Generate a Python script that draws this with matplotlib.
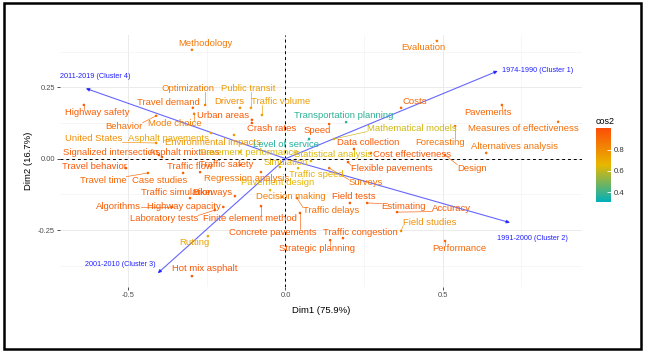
import numpy as np
import matplotlib
matplotlib.use("Agg")
import matplotlib.pyplot as plt
from matplotlib.colors import LinearSegmentedColormap, Normalize
from matplotlib.patches import Rectangle
from matplotlib.cm import ScalarMappable

plt.rcParams['font.family'] = ['Liberation Sans', 'DejaVu Sans']

# row coordinates (keywords)
terms = ["Methodology", "Evaluation", "Optimization", "Public transit", "Drivers",
         "Traffic volume", "Travel demand", "Urban areas", "Mode choice", "Crash rates",
         "Highway safety", "Behavior", "United States", "Asphalt pavements",
         "Environmental impacts", "Signalized intersection", "Asphalt mixtures",
         "Pavement performance", "Statistical analysis", "Simulation", "Level of service",
         "Transportation planning", "Speed", "Mathematical models", "Data collection",
         "Cost effectiveness", "Design", "Forecasting", "Costs", "Pavements",
         "Measures of effectiveness", "Alternatives analysis", "Flexible pavements",
         "Traffic speed", "Surveys", "Field tests", "Estimating", "Accuracy",
         "Field studies", "Performance", "Traffic congestion", "Strategic planning",
         "Concrete pavements", "Traffic delays", "Decision making", "Pavement design",
         "Finite element method", "Regression analysis", "Traffic safety", "Traffic flow",
         "Travel behavior", "Travel time", "Case studies", "Traffic simulation", "Bikeways",
         "Algorithms", "Highway capacity", "Laboratory tests", "Rutting", "Hot mix asphalt"]
dim1 = [-0.298, 0.482, -0.256, -0.110, -0.145, -0.075, -0.295, -0.107, -0.291, -0.107,
        -0.642, -0.412, -0.412, -0.237, -0.164, -0.403, -0.393, -0.145, 0.081, -0.018,
        0.075, 0.193, 0.139, 0.154, 0.218, 0.272, 0.508, 0.540, 0.368, 0.689,
        0.868, 0.639, 0.199, 0.040, 0.139, 0.205, 0.260, 0.355, 0.368, 0.508,
        0.183, 0.142, 0.046, 0.037, -0.011, -0.049, -0.078, -0.078, -0.145, -0.272,
        -0.508, -0.438, -0.326, -0.304, -0.161, -0.361, -0.198, -0.225, -0.247, -0.298]
dim2 = [0.381, 0.412, 0.188, 0.178, 0.178, 0.153, 0.178, 0.136, 0.157, 0.125,
        0.188, 0.150, 0.055, 0.090, 0.083, 0.013, 0.006, 0.023, -0.008, -0.029,
        0.069, 0.128, 0.121, 0.069, 0.034, 0.020, 0.013, 0.114, 0.178, 0.188,
        0.129, 0.020, -0.012, -0.033, -0.033, -0.155, -0.155, -0.187, -0.253, -0.288,
        -0.278, -0.285, -0.190, -0.138, -0.134, -0.110, -0.166, -0.047, -0.022, -0.047,
        -0.033, -0.050, -0.050, -0.138, -0.131, -0.169, -0.169, -0.180, -0.271, -0.411]
cos2 = [0.86, 0.87, 0.85, 0.74, 0.80, 0.74, 0.92, 0.96, 0.84, 0.97,
        0.95, 0.90, 0.80, 0.72, 0.76, 0.95, 0.95, 0.64, 0.64, 0.67,
        0.36, 0.38, 0.95, 0.62, 0.96, 0.97, 0.92, 0.88, 0.92, 0.92,
        0.90, 0.88, 0.97, 0.68, 0.88, 0.97, 0.95, 0.95, 0.78, 0.92,
        0.95, 0.95, 0.95, 0.90, 0.85, 0.65, 0.95, 0.88, 0.95, 0.95,
        0.97, 0.92, 0.92, 0.95, 0.95, 0.95, 0.95, 0.95, 0.72, 0.97]

# repelled label placement
label_xy = [(-0.256, 0.402), (0.438, 0.388), (-0.311, 0.244), (-0.119, 0.244), (-0.180, 0.199),
            (-0.014, 0.199), (-0.374, 0.195), (-0.199, 0.150), (-0.352, 0.122), (-0.043, 0.104),
            (-0.600, 0.160), (-0.514, 0.114), (-0.610, 0.069), (-0.371, 0.072), (-0.231, 0.058),
            (-0.556, 0.020), (-0.323, 0.023), (-0.116, 0.020), (0.151, 0.013), (0.002, -0.012),
            (0.002, 0.051), (0.186, 0.150), (0.100, 0.097), (0.403, 0.107), (0.263, 0.055),
            (0.403, 0.013), (0.594, -0.033), (0.492, 0.058), (0.412, 0.199), (0.645, 0.160),
            (0.757, 0.107), (0.728, 0.041), (0.339, -0.036), (0.097, -0.057), (0.256, -0.085),
            (0.218, -0.131), (0.377, -0.169), (0.530, -0.173), (0.460, -0.222), (0.553, -0.316),
            (0.237, -0.257), (0.100, -0.313), (-0.040, -0.260), (0.145, -0.183), (0.018, -0.134),
            (-0.024, -0.085), (-0.113, -0.211), (-0.123, -0.068), (-0.189, -0.019), (-0.304, -0.029),
            (-0.607, -0.029), (-0.581, -0.075), (-0.400, -0.075), (-0.346, -0.117), (-0.234, -0.117),
            (-0.533, -0.166), (-0.323, -0.166), (-0.387, -0.211), (-0.291, -0.295), (-0.256, -0.386)]

# column coordinates (periods)
periods = ["1974-1990 (Cluster 1)", "1991-2000 (Cluster 2)",
           "2001-2010 (Cluster 3)", "2011-2019 (Cluster 4)"]
per_dim1 = [0.676, 0.715, -0.407, -0.636]
per_dim2 = [0.307, -0.224, -0.401, 0.246]
period_label_xy = [(0.804, 0.307), (0.785, -0.278), (-0.527, -0.372), (-0.607, 0.286)]

cmap = LinearSegmentedColormap.from_list("cos2", ["#00AFBB", "#E7B800", "#FC4E07"])
norm = Normalize(vmin=0.31, vmax=1.0)

fig = plt.figure(figsize=(6.45, 3.52), dpi=100)
ax = fig.add_axes([0.093, 0.1847, 0.8093, 0.716])
ax.set_xlim(-0.718, 0.944)
ax.set_ylim(-0.449, 0.433)

# grid like theme_minimal
ax.set_xticks([-0.5, 0.0, 0.5])
ax.set_yticks([-0.25, 0.0, 0.25])
ax.set_xticklabels(["-0.5", "0.0", "0.5"])
ax.set_yticklabels(["-0.25", "0.00", "0.25"])
ax.set_xticks([-0.25, 0.25, 0.75], minor=True)
ax.set_yticks([-0.375, -0.125, 0.125, 0.375], minor=True)
ax.grid(which='major', color='#EBEBEB', lw=0.7)
ax.grid(which='minor', color='#F2F2F2', lw=0.45)
ax.set_axisbelow(True)
for s in ax.spines.values():
    s.set_visible(False)
ax.tick_params(which='major', length=2, width=0.6, color='#333333',
               labelsize=5.4, labelcolor='#4D4D4D', pad=1.5)
ax.tick_params(which='minor', length=0)

ax.axhline(0, color='black', lw=0.7, ls=(0, (3, 3)), zorder=1)
ax.axvline(0, color='black', lw=0.7, ls=(0, (3, 3)), zorder=1)

ax.set_xlabel("Dim1 (75.9%)", fontsize=6.8, labelpad=5)
ax.set_ylabel("Dim2 (16.7%)", fontsize=6.8, labelpad=4)

# period arrows
for x, y in zip(per_dim1, per_dim2):
    ax.annotate("", xy=(x, y), xytext=(0, 0),
                arrowprops=dict(arrowstyle="-|>", color='blue', alpha=0.6,
                                lw=0.8, mutation_scale=5, shrinkA=0, shrinkB=0))
for name, (lx, ly) in zip(periods, period_label_xy):
    ax.text(lx, ly, name, color='#1f1fff', fontsize=5.2, ha='center', va='center')

# keyword points and labels
colors = [cmap(norm(c)) for c in cos2]
ax.scatter(dim1, dim2, s=3.5, c=colors, linewidths=0, zorder=3)
texts = []
for name, (lx, ly), col in zip(terms, label_xy, colors):
    texts.append(ax.text(lx, ly, name, color=col, fontsize=6.8,
                         ha='center', va='center', zorder=4))

# leader segments from label box to point
fig.canvas.draw()
renderer = fig.canvas.get_renderer()
inv = ax.transData.inverted()
for t, x, y, col in zip(texts, dim1, dim2, colors):
    bb = t.get_window_extent(renderer)
    px, py = ax.transData.transform((x, y))
    cx = min(max(px, bb.x0), bb.x1)
    cy = min(max(py, bb.y0 + 1), bb.y1 - 1)
    if np.hypot(px - cx, py - cy) > 4:
        (x0, y0), (x1, y1) = inv.transform([(cx, cy), (px, py)])
        ax.plot([x0, x1], [y0, y1], color=col, lw=0.45, zorder=2)

# colour bar for cos2
cax = fig.add_axes([0.924, 0.426, 0.0233, 0.210])
cb = fig.colorbar(ScalarMappable(norm=norm, cmap=cmap), cax=cax, ticks=[0.4, 0.6, 0.8])
cb.outline.set_visible(False)
cax.tick_params(length=3, width=0.6, color='white', direction='in',
                labelsize=5.6, labelcolor='#333333', pad=2)
cax.set_title("cos2", fontsize=6.5, loc='left', pad=3)

fig.patches.append(Rectangle((4 / 645, 3 / 352), 637 / 645, 346 / 352,
                             transform=fig.transFigure, fill=False,
                             edgecolor='black', lw=1.8))

fig.savefig("out.png", dpi=100)
